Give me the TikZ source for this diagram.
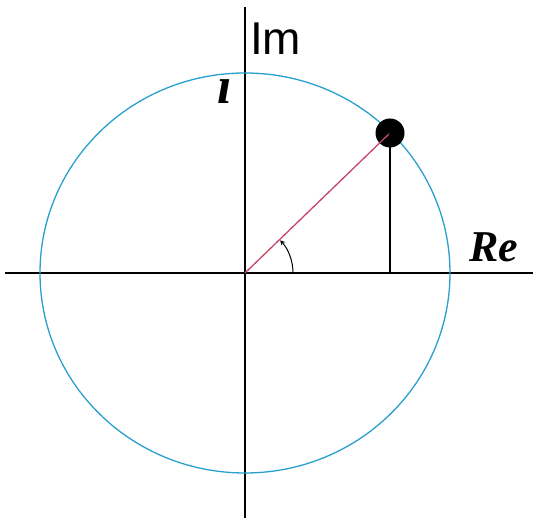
\documentclass[tikz,border=0pt]{standalone}
\usepackage{fontspec}
\setmainfont{Liberation Serif}
\newfontfamily\imfont{Liberation Sans}
\usetikzlibrary{arrows.meta}
\definecolor{circleBlue}{RGB}{40,160,205}
\definecolor{radiusRed}{RGB}{195,70,100}

\begin{document}
\begin{tikzpicture}[
    x=1pt, y=-1pt,
    axis/.style={draw=black, line width=1.4pt},
    unitcircle/.style={draw=circleBlue, line width=1.3pt},
    radiusline/.style={draw=radiusRed, line width=1.3pt},
    dropline/.style={draw=black, line width=1.3pt},
    anglemark/.style={draw=black, line width=1pt, -{Stealth[length=5pt,width=5pt]}},
    dot/.style={circle, fill=black, inner sep=0pt, minimum size=29pt},
    lbl/.style={inner sep=0pt, anchor=base west}
]
    \useasboundingbox (0,0) rectangle (533,518);
    \coordinate (O) at (245,273);
    \coordinate (xl) at (5,273);
    \coordinate (xr) at (533,273);
    \coordinate (yt) at (245,7);
    \coordinate (yb) at (245,518);
    \coordinate (F) at (390,273);

    % axes and circle
    \draw[axis] (xl) -- (xr);
    \draw[axis] (yt) -- (yb);
    \draw[unitcircle] (O) ellipse [x radius=205, y radius=200];

    % point on the circle
    \node[dot] (P) at (390,133) {};
    \draw[radiusline] (O) -- (P.center);
    \draw[dropline] (P.center) -- (F);
    \draw[anglemark] (O) ++(48pt,0pt) arc [start angle=0, end angle=43, radius=48pt];

    % labels
    \node[lbl, font=\imfont\fontsize{46}{46}\selectfont] (im) at (250,55) {Im};
    \node[lbl, font=\fontsize{44}{44}\selectfont\bfseries\itshape] (re) at (469,262) {Re};
    \node[lbl, font=\fontsize{52}{52}\selectfont\bfseries\itshape] (iu) at (217,104) {\i};
\end{tikzpicture}
\end{document}
